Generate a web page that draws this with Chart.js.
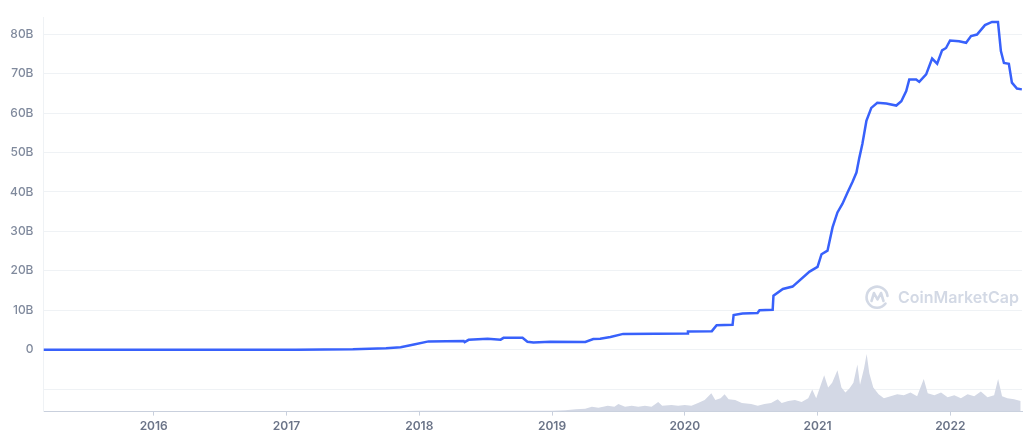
<!DOCTYPE html>
<html>
<head>
<meta charset="utf-8">
<script src="https://cdn.jsdelivr.net/npm/chart.js@4/dist/chart.umd.min.js"></script>
<style>
    body { margin: 0; background: #ffffff; }
    #wrap { position: relative; width: 1024px; height: 441px; }
    #marca { position: absolute; left: 864px; top: 283px; display: flex; align-items: center; pointer-events: none; }
    #marca span { font-family: Inter, "Noto Sans", sans-serif; font-weight: 600; font-size: 16px; color: #d3d9e5; margin-left: 7px; }
</style>
</head>
<body>
<div id="wrap">
    <canvas id="graficoMarketCap"></canvas>
    <div id="marca">
        <svg width="27" height="27" viewBox="0 0 27 27">
            <path d="M21.5 20.5 A10.5 10.5 0 1 1 23.5 13" fill="none" stroke="#d3d9e5" stroke-width="2.6" stroke-linecap="round"/>
            <path d="M7.5 18 L10 10 L13.5 16.5 L17 10 L19.5 18" fill="none" stroke="#d3d9e5" stroke-width="2.6" stroke-linecap="round" stroke-linejoin="round"/>
        </svg>
        <span>CoinMarketCap</span>
    </div>
</div>
<script>
// market cap (billions USD), x = fractional year
const capDates = [
    2015.17, 2017.07, 2017.5, 2017.75, 2017.86, 2017.96, 2018.07, 2018.335, 2018.342, 2018.372,
    2018.515, 2018.613, 2018.635, 2018.778, 2018.815, 2018.86, 2018.988, 2019.251, 2019.311, 2019.363,
    2019.44, 2019.536, 2020.017, 2020.024, 2020.204, 2020.24, 2020.36, 2020.368, 2020.435, 2020.548,
    2020.563, 2020.662, 2020.668, 2020.739, 2020.812, 2020.94, 2021.0, 2021.03, 2021.075, 2021.113,
    2021.15, 2021.188, 2021.225, 2021.263, 2021.293, 2021.315, 2021.338, 2021.368, 2021.405, 2021.45,
    2021.518, 2021.593, 2021.631, 2021.668, 2021.691, 2021.743, 2021.766, 2021.818, 2021.863, 2021.901,
    2021.938, 2021.968, 2021.998, 2022.066, 2022.119, 2022.156, 2022.201, 2022.261, 2022.314, 2022.359,
    2022.381, 2022.404, 2022.441, 2022.464, 2022.502, 2022.539
];
const capValues = [
    0, 0, 0.1, 0.35, 0.6, 1.3, 2.1, 2.2, 1.9, 2.5,
    2.8, 2.55, 3.0, 3.0, 2.0, 1.8, 2.0, 1.95, 2.7, 2.75,
    3.2, 4.0, 4.1, 4.6, 4.7, 6.2, 6.3, 8.8, 9.2, 9.3,
    10.0, 10.1, 13.7, 15.4, 16.0, 19.8, 21.0, 24.2, 25.1, 31.0,
    34.8, 37.0, 39.8, 42.5, 44.9, 48.7, 52.2, 58.0, 61.3, 62.6,
    62.4, 61.9, 63.0, 65.6, 68.5, 68.5, 67.9, 69.8, 73.8, 72.5,
    75.9, 76.5, 78.4, 78.2, 77.8, 79.5, 79.9, 82.3, 83.1, 83.1,
    75.7, 72.7, 72.5, 67.7, 66.2, 66.0
];

// volume (billions USD)
const volDates = [
    2015.17, 2017.5, 2017.9, 2018.0, 2018.5, 2019.0, 2019.1, 2019.18, 2019.25, 2019.3,
    2019.35, 2019.42, 2019.47, 2019.5, 2019.55, 2019.6, 2019.65, 2019.7, 2019.75, 2019.8,
    2019.83, 2019.9, 2019.95, 2020.0, 2020.05, 2020.1, 2020.15, 2020.2, 2020.23, 2020.27,
    2020.3, 2020.33, 2020.38, 2020.43, 2020.5, 2020.55, 2020.6, 2020.65, 2020.7, 2020.73,
    2020.78, 2020.83, 2020.88, 2020.93, 2020.96, 2020.99, 2021.03, 2021.05, 2021.08, 2021.11,
    2021.15, 2021.18, 2021.21, 2021.24, 2021.27, 2021.3, 2021.32, 2021.35, 2021.37, 2021.39,
    2021.42, 2021.46, 2021.5, 2021.55, 2021.6, 2021.65, 2021.7, 2021.75, 2021.8, 2021.83,
    2021.88, 2021.93, 2021.98, 2022.03, 2022.08, 2022.13, 2022.18, 2022.23, 2022.28, 2022.33,
    2022.36, 2022.39, 2022.43, 2022.48, 2022.53
];
const volValues = [
    0, 1, 1.5, 3, 3, 3, 4.5, 7.5, 9, 15,
    12, 18, 15, 24, 15, 18, 15, 18, 15, 30,
    18, 21, 18, 21, 18, 27, 36, 57, 36, 42,
    54, 39, 36, 27, 24, 18, 24, 27, 39, 27,
    33, 36, 30, 42, 69, 42, 90, 114, 75, 90,
    129, 75, 60, 72, 90, 147, 84, 135, 180, 120,
    75, 54, 42, 48, 54, 51, 60, 48, 102, 57,
    51, 60, 45, 51, 42, 54, 48, 63, 45, 51,
    102, 48, 42, 39, 33
];

const yearTicks = [2016, 2017, 2018, 2019, 2020, 2021, 2022];
const capTicks = [-10, 0, 10, 20, 30, 40, 50, 60, 70, 80];

document.addEventListener("DOMContentLoaded", function () {
    renderChart();
});

function toPoints(xs, ys) {
    return xs.map((x, i) => ({ x: x, y: ys[i] }));
}

function renderChart() {
    const ctx = document.getElementById('graficoMarketCap').getContext('2d');
    new Chart(ctx, {
        type: 'line',
        data: {
            datasets: [{
                data: toPoints(capDates, capValues),
                yAxisID: 'y',
                borderColor: '#3861fb',
                borderWidth: 2.5,
                pointRadius: 0,
                tension: 0,
                fill: false,
                order: 1
            }, {
                data: toPoints(volDates, volValues),
                yAxisID: 'vol',
                borderWidth: 0,
                borderColor: 'rgba(0,0,0,0)',
                backgroundColor: '#d3d8e5',
                pointRadius: 0,
                tension: 0,
                fill: 'origin',
                order: 2
            }]
        },
        options: {
            responsive: true,
            maintainAspectRatio: false,
            animation: false,
            layout: {
                padding: { top: 0, right: 2, bottom: 3, left: 0 }
            },
            plugins: {
                legend: { display: false },
                tooltip: { enabled: false }
            },
            scales: {
                x: {
                    type: 'linear',
                    min: 2015.17,
                    max: 2022.54,
                    afterBuildTicks: function (axis) {
                        axis.ticks = yearTicks.map(v => ({ value: v }));
                    },
                    ticks: {
                        autoSkip: false,
                        maxRotation: 0,
                        padding: 4,
                        color: '#6b7488',
                        font: { family: 'Inter', size: 12, weight: '600' },
                        callback: function (value) { return String(value); }
                    },
                    grid: {
                        drawOnChartArea: false,
                        drawTicks: true,
                        tickLength: 4,
                        color: '#c9d0dd'
                    },
                    border: {
                        display: true,
                        color: '#c9d0dd',
                        dash: [1, 2]
                    }
                },
                y: {
                    position: 'left',
                    min: -15.7,
                    max: 84.3,
                    afterBuildTicks: function (axis) {
                        axis.ticks = capTicks.map(v => ({ value: v }));
                    },
                    ticks: {
                        padding: 10,
                        color: '#808a9d',
                        font: { family: 'Inter', size: 12, weight: '500' },
                        callback: function (value) {
                            if (value < 0) return '';
                            if (value === 0) return '0';
                            return value + 'B';
                        }
                    },
                    grid: {
                        color: '#eff2f5',
                        drawTicks: false
                    },
                    border: {
                        display: true,
                        color: '#eff2f5'
                    }
                },
                vol: {
                    display: false,
                    min: 0,
                    max: 1233
                }
            }
        }
    });
}
</script>
</body>
</html>
